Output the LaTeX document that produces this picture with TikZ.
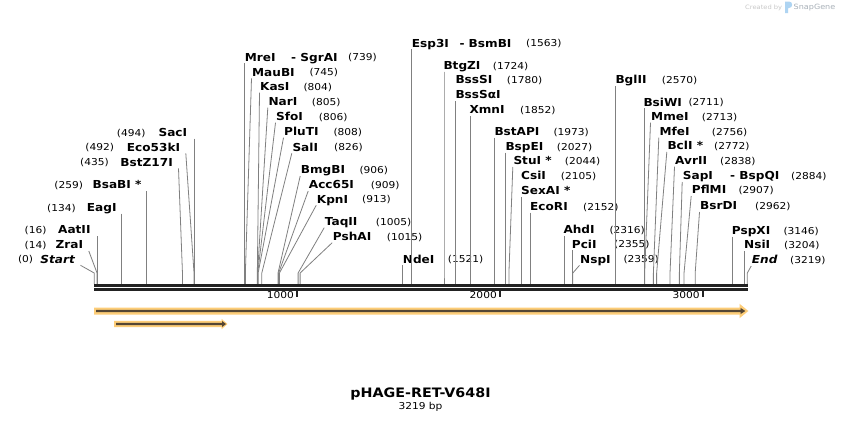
\documentclass[tikz,border=0pt]{standalone}
\usepackage{fontspec}
\newfontfamily\labfont[FakeStretch=1.1]{DejaVu Sans}
\newfontfamily\numfont[FakeStretch=1.12]{DejaVu Sans}
\definecolor{leadgray}{RGB}{128,128,128}
\definecolor{barblack}{RGB}{34,34,34}
\definecolor{featorange}{RGB}{253,205,120}
\definecolor{featdark}{RGB}{84,70,52}
\definecolor{wmgray}{RGB}{200,200,200}
\definecolor{wmdark}{RGB}{168,176,184}
\definecolor{wmblue}{RGB}{174,212,242}
\tikzset{
  labname/.style={font=\labfont\bfseries\fontsize{11}{13}\selectfont, inner sep=0pt, text=black},
  labnum/.style={font=\numfont\fontsize{9.5}{11}\selectfont, inner sep=0pt, text=black},
  leader/.style={draw=leadgray, line width=0.8pt},
  barline/.style={draw=barblack, line width=2.7pt},
  tickline/.style={draw=barblack, line width=2pt},
}
% line from a label (left edge) to its site
\newcommand\Rlead[4]{%
  \pgfmathsetmacro\sitex{94.2+#4*0.2029}%
  \pgfmathsetmacro\leadx{(abs(#2-0.5-\sitex)<1.8) ? \sitex : (#2-0.5)}%
  \coordinate (t#1) at (\leadx,#3+6);
  \coordinate (s#1) at (\sitex,273);
  \coordinate (b#1) at (\sitex,284);
  \draw[leader] (t#1) -- (s#1) -- (b#1);}
% name then number, line from the name's left edge
\newcommand\Rlab[7]{%
  \node[labname,anchor=base west] (n#1) at (#4,#6+3.9) {#2};
  \node[labnum,anchor=base west] (p#1) at (#5,#6+3.5) {#3};
  \Rlead{#1}{#4}{#6}{#7}}
% number then name, line from the name's right edge
\newcommand\Llab[7]{%
  \node[labname,anchor=base east] (n#1) at (#4,#6+3.9) {#2};
  \node[labnum,anchor=base east] (p#1) at (#5,#6+3.5) {#3};
  \pgfmathsetmacro\sitex{94.2+#7*0.2029}%
  \pgfmathsetmacro\leadx{(abs(#4+5.5-\sitex)<2.5) ? \sitex : (#4+5.5)}%
  \coordinate (t#1) at (\leadx,#6+6);
  \coordinate (s#1) at (\sitex,273);
  \coordinate (b#1) at (\sitex,284);
  \draw[leader] (t#1) -- (s#1) -- (b#1);}
\begin{document}
\begin{tikzpicture}[x=1pt,y=-1pt]
\useasboundingbox (0,0) rectangle (842,423);
\fill[white] (0,0) rectangle (842,423);

% ---- labels right of their lines
\Rlab{1}{MreI}{(739)}{244.7}{348}{57.3}{739}
\node[labname,anchor=base west] (n1b) at (291,57.3+3.9) {- SgrAI};
\Rlab{2}{MauBI}{(745)}{252}{309.3}{72.3}{745}
\Rlab{3}{KasI}{(804)}{260}{303.3}{86.7}{804}
\Rlab{4}{NarI}{(805)}{268.3}{311.7}{101.7}{805}
\Rlab{5}{SfoI}{(806)}{276}{318.7}{116.7}{806}
\Rlab{6}{PluTI}{(808)}{284}{333.3}{131.7}{808}
\Rlab{7}{SalI}{(826)}{292.3}{334}{147.3}{826}
\Rlab{8}{BmgBI}{(906)}{300.7}{359.3}{170}{906}
\Rlab{9}{Acc65I}{(909)}{308.7}{370.7}{185}{909}
\Rlab{10}{KpnI}{(913)}{316.7}{362}{199.3}{913}
\Rlab{11}{TaqII}{(1005)}{324.7}{375.7}{221.7}{1005}
\Rlab{12}{PshAI}{(1015)}{332.7}{386.7}{236.7}{1015}
\Rlab{13}{NdeI}{(1521)}{402.7}{447.7}{259.3}{1521}
\Rlab{14}{Esp3I}{(1563)}{411.7}{526}{43.3}{1563}
\node[labname,anchor=base west] (n14b) at (459.3,43.3+3.9) {- BsmBI};
\Rlab{15}{BtgZI}{(1724)}{443.3}{492.7}{65.7}{1724}
\node[labname,anchor=base west] (n16) at (455.3,80+3.9) {BssSI};
\node[labnum,anchor=base west] (p16) at (506.7,80+3.5) {(1780)};
\node[labname,anchor=base west] (n17) at (455.3,95+3.9) {BssSαI};
\Rlead{17}{455.3}{95}{1780}
\Rlab{18}{XmnI}{(1852)}{469.3}{520}{110}{1852}
\Rlab{19}{BstAPI}{(1973)}{494.3}{553.3}{131.7}{1973}
\Rlab{20}{BspEI}{(2027)}{505.3}{556.7}{146.7}{2027}
\Rlab{21}{StuI *}{(2044)}{513.3}{564.7}{161}{2044}
\node[labname,anchor=base west] (n22) at (521,176+3.9) {CsiI};
\node[labnum,anchor=base west] (p22) at (560.7,176+3.5) {(2105)};
\node[labname,anchor=base west] (n23) at (521,191+3.9) {SexAI *};
\Rlead{23}{521}{191}{2105}
\Rlab{24}{EcoRI}{(2152)}{530}{583}{206.7}{2152}
\Rlab{25}{AhdI}{(2316)}{563.3}{609.3}{230}{2316}
\Rlab{26}{PciI}{(2355)}{571.7}{614}{244.3}{2355}
\Rlab{27}{NspI}{(2359)}{580}{623.3}{259.3}{2359}
\Rlab{28}{BglII}{(2570)}{615.3}{661.7}{80}{2570}
\Rlab{29}{BsiWI}{(2711)}{643.3}{688.3}{102.3}{2711}
\Rlab{30}{MmeI}{(2713)}{651}{701.7}{116.7}{2713}
\Rlab{31}{MfeI}{(2756)}{659.3}{711.7}{131.7}{2756}
\Rlab{32}{BclI *}{(2772)}{667.3}{714}{146}{2772}
\Rlab{33}{AvrII}{(2838)}{675}{720}{160.7}{2838}
\Rlab{34}{SapI}{(2884)}{682.7}{791}{176}{2884}
\node[labname,anchor=base west] (n34b) at (730,176+3.9) {- BspQI};
\Rlab{35}{PflMI}{(2907)}{691.7}{738.3}{190}{2907}
\Rlab{36}{BsrDI}{(2962)}{700}{755}{206}{2962}
\Rlab{37}{PspXI}{(3146)}{731.7}{783.3}{230.7}{3146}
\Rlab{38}{NsiI}{(3204)}{744}{784}{245}{3204}
\Rlab{39}{\itshape End}{(3219)}{751.7}{790}{260}{3219}

% ---- labels left of their lines
\Llab{40}{SacI}{(494)}{187.3}{145.7}{132.7}{494}
\Llab{41}{Eco53kI}{(492)}{180.3}{114.3}{147.3}{492}
\Llab{42}{BstZ17I}{(435)}{173}{109}{162.3}{435}
\Llab{43}{BsaBI *}{(259)}{141.7}{83.3}{185}{259}
\Llab{44}{EagI}{(134)}{116.7}{76}{207.7}{134}
\Llab{45}{AatII}{(16)}{90.7}{46.7}{230}{16}
\Llab{46}{ZraI}{(14)}{83.3}{46.7}{245}{14}
\Llab{47}{\itshape Start}{(0)}{75}{33.3}{259.3}{0}

% ---- sequence bar
\coordinate (barL) at (94,285.3);
\coordinate (barR) at (747.7,285.3);
\draw[barline] (barL) -- (barR);
\draw[barline] ([yshift=-4pt]barL) -- ([yshift=-4pt]barR);

% ---- ticks
\foreach \k/\lab in {1/1000,2/2000,3/3000}{
  \pgfmathsetmacro\tickx{94.2+\k*1000*0.2029}
  \draw[tickline] (\tickx,290.7) -- (\tickx,296.7);
  \node[labnum,anchor=base east] (tick\k) at (\tickx-3,295+3.5) {\lab};
}

% ---- features
\fill[featorange] (94,307.5) -- (739.5,307.5) -- (739.5,303.8) -- (748.3,311)
  -- (739.5,318.2) -- (739.5,314.5) -- (94,314.5) -- cycle;
\fill[featdark] (96,309.8) -- (740.5,309.8) -- (740.5,307.9) -- (745.3,311)
  -- (740.5,314.1) -- (740.5,312.2) -- (96,312.2) -- cycle;
\fill[featorange] (114,320.8) -- (221.5,320.8) -- (221.5,318.8) -- (227.5,324)
  -- (221.5,329.2) -- (221.5,327.2) -- (114,327.2) -- cycle;
\fill[featdark] (116,322.8) -- (222,322.8) -- (222,321) -- (226,324)
  -- (222,327) -- (222,325.2) -- (116,325.2) -- cycle;

% ---- title
\node[font=\labfont\bfseries\fontsize{13}{15}\selectfont, inner sep=0pt, anchor=base] (title) at (420.5,392.3+4.7) {pHAGE-RET-V648I};
\node[labnum,anchor=base] (length) at (420.5,406+3.5) {3219 bp};

% ---- watermark
\node[font=\numfont\fontsize{6}{7}\selectfont, text=wmgray, inner sep=0pt, anchor=base west] (wm1) at (745,7+2.2) {Created by};
\fill[wmblue] (785,13) -- (785,1.5) -- (789,1.5) .. controls (793.2,1.5) and (793.2,8) .. (789,8) -- (788,8) -- (788,13) -- cycle;
\node[font=\numfont\fontsize{7.2}{8}\selectfont, text=wmdark, inner sep=0pt, anchor=base west] (wm2) at (793.5,7+2.7) {SnapGene};
\end{tikzpicture}
\end{document}
